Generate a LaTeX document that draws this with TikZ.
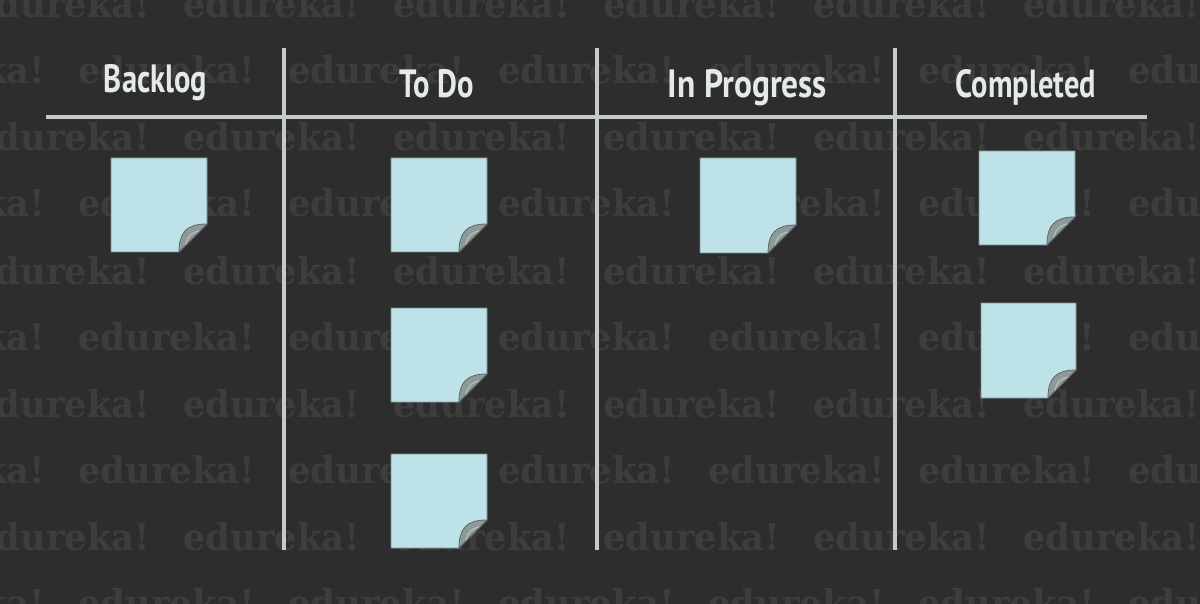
\documentclass[tikz,border=0pt]{standalone}
\usepackage{fontspec}
\newfontfamily\wmfont{DejaVu Serif}
\newfontfamily\hdfont{PT Sans}
\definecolor{bg}{HTML}{2D2D2D}
\definecolor{wmcol}{HTML}{3D3D3D}
\definecolor{rulecol}{HTML}{C2CACA}
\definecolor{hdcol}{HTML}{E4EAEA}
\definecolor{notefill}{HTML}{BDE2E8}
\definecolor{noteedge}{HTML}{7E8C8C}
\definecolor{flapfill}{HTML}{8E9999}
\definecolor{flapedge}{HTML}{5E6666}
\definecolor{flaplight}{HTML}{B4BEBE}
\tikzset{
  wm/.style={anchor=base west, inner sep=0pt, text=wmcol},
  hd/.style={anchor=base, inner sep=0pt, text=hdcol},
  rule/.style={draw=rulecol, line width=3.5pt},
  notebody/.style={fill=notefill, draw=noteedge, line width=0.9pt},
  flap/.style={fill=flapfill, draw=flapedge, line width=0.8pt},
}
\newcommand\stickynote[5]{%
  \coordinate (#1) at ({(#2+#4)/2},{(#3+#5)/2});
  \path[notebody] (#2,#3) -- (#4,#3) -- (#4,{#5-28}) -- ({#4-28},#5) -- (#2,#5) -- cycle;
  \path[flap] (#4,{#5-28}) .. controls ({#4-20},{#5-28}) and ({#4-28},{#5-20}) .. ({#4-28},#5) -- cycle;
  \draw[flaplight, line width=1.2pt, line cap=round] ({#4-8},{#5-21}) .. controls ({#4-16},{#5-19}) and ({#4-19},{#5-16}) .. ({#4-21},{#5-8});
}
\begin{document}
\begin{tikzpicture}[x=1pt,y=-1pt]
\fill[bg] (0,0) rectangle (1200,604);
\useasboundingbox (0,0) rectangle (1200,604);
% watermark
\foreach \yb in {84,217,350,483,616}{
  \foreach \k in {-1,...,5}{
    \node[wm] (wa-\yb-\k) at ({78+210*\k},\yb) {\resizebox{177pt}{28pt}{\wmfont\bfseries edureka!}};
  }
}
\foreach \yb in {18,151,284,417,550}{
  \foreach \k in {0,...,6}{
    \node[wm] (wb-\yb-\k) at ({-27+210*\k},\yb) {\resizebox{177pt}{28pt}{\wmfont\bfseries edureka!}};
  }
}
% rules
\coordinate (hl) at (46,117);
\coordinate (hr) at (1147,117);
\coordinate (v1t) at (284,48);
\coordinate (v1b) at (284,550);
\coordinate (v2t) at (597,48);
\coordinate (v2b) at (597,550);
\coordinate (v3t) at (895,48);
\coordinate (v3b) at (895,550);
\draw[rule] (hl) -- (hr);
\draw[rule] (v1t) -- (v1b);
\draw[rule] (v2t) -- (v2b);
\draw[rule] (v3t) -- (v3b);
% headers
\node[hd] (h1) at (155.5,93) {\resizebox{103pt}{28pt}{\hdfont\bfseries Backlog}};
\node[hd] (h2) at (437,97.5) {\resizebox{74pt}{28pt}{\hdfont\bfseries To Do}};
\node[hd] (h3) at (747.5,97.5) {\resizebox{159pt}{28pt}{\hdfont\bfseries In Progress}};
\node[hd] (h4) at (1026,97.5) {\resizebox{140pt}{28pt}{\hdfont\bfseries Completed}};
% notes
\stickynote{n1}{111}{158}{207}{252}
\stickynote{n2}{391}{158}{487}{252}
\stickynote{n3}{391}{308}{487}{402}
\stickynote{n4}{391}{454}{487}{548}
\stickynote{n5}{700}{158}{796}{253}
\stickynote{n6}{979}{151}{1075}{245}
\stickynote{n7}{981}{303}{1076}{398}
\end{tikzpicture}
\end{document}
